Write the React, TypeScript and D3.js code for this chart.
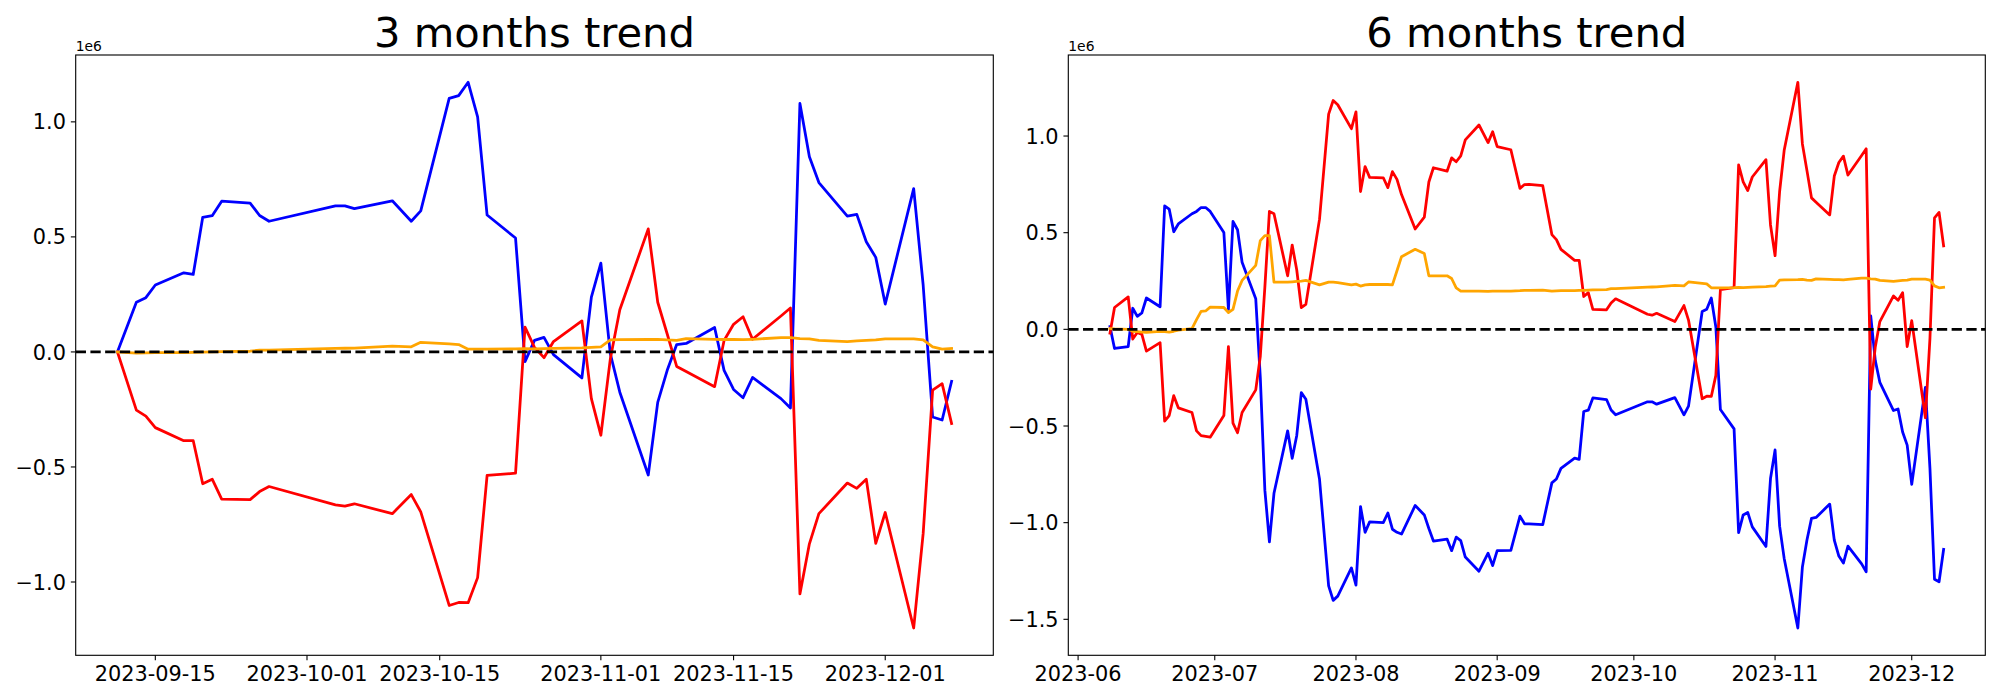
import React from "react";
import * as d3 from "d3";

const W = 2000;
const H = 700;

const FONT = "DejaVu Sans, sans-serif";
const PT = 100 / 72; // matplotlib points -> px at 100 dpi

// 3 months window (values in 1e6)
const M3_DATES = [
  "2023-09-11", "2023-09-13", "2023-09-14", "2023-09-15", "2023-09-18", "2023-09-19",
  "2023-09-20", "2023-09-21", "2023-09-22", "2023-09-25", "2023-09-26", "2023-09-27",
  "2023-10-04", "2023-10-05", "2023-10-06", "2023-10-10", "2023-10-12", "2023-10-13",
  "2023-10-16", "2023-10-17", "2023-10-18", "2023-10-19", "2023-10-20", "2023-10-23",
  "2023-10-24", "2023-10-25", "2023-10-26", "2023-10-27", "2023-10-30", "2023-10-31",
  "2023-11-01", "2023-11-02", "2023-11-03", "2023-11-06", "2023-11-07", "2023-11-08",
  "2023-11-09", "2023-11-10", "2023-11-13", "2023-11-14", "2023-11-15", "2023-11-16",
  "2023-11-17", "2023-11-20", "2023-11-21", "2023-11-22", "2023-11-23", "2023-11-24",
  "2023-11-27", "2023-11-28", "2023-11-29", "2023-11-30", "2023-12-01", "2023-12-04",
  "2023-12-05", "2023-12-06", "2023-12-07", "2023-12-08",
];
const M3_BLUE = [
  0, 0.216, 0.236, 0.291, 0.344, 0.337, 0.585, 0.592, 0.655, 0.647, 0.593, 0.568,
  0.635, 0.635, 0.623, 0.657, 0.568, 0.613, 1.102, 1.114, 1.172, 1.022, 0.595, 0.495,
  -0.042, 0.05, 0.063, -0.012, -0.113, 0.238,
  0.386, -0.008, -0.175, -0.535, -0.219, -0.08, 0.032, 0.037, 0.106, -0.08, -0.163, -0.199,
  -0.111, -0.203, -0.244, 1.08, 0.848, 0.736, 0.59, 0.598, 0.479, 0.411,
  0.208, 0.71, 0.291, -0.283, -0.296, -0.128,
];
const M3_RED = [
  0, -0.253, -0.279, -0.329, -0.386, -0.386, -0.573, -0.553, -0.64, -0.642, -0.607, -0.585,
  -0.665, -0.67, -0.66, -0.703, -0.62, -0.695, -1.102, -1.089, -1.09, -0.981, -0.537, -0.527,
  0.108, 0.02, -0.025, 0.045, 0.135, -0.203,
  -0.362, -0.03, 0.183, 0.535, 0.216, 0.078, -0.063, -0.085, -0.151, 0.05, 0.12, 0.153,
  0.055, 0.156, 0.191, -1.052, -0.834, -0.703, -0.57, -0.593, -0.553, -0.832,
  -0.698, -1.2, -0.79, -0.166, -0.138, -0.311,
];
const M3_ORANGE = [
  0, -0.005, -0.004, -0.003, -0.003, -0.002, -0.001, 0, 0.001, 0.003, 0.008, 0.008,
  0.015, 0.016, 0.017, 0.025, 0.022, 0.042, 0.035, 0.032, 0.012, 0.012, 0.012, 0.013,
  0.014, 0.013, 0.014, 0.015, 0.018, 0.02,
  0.022, 0.052, 0.053, 0.054, 0.055, 0.052, 0.05, 0.058, 0.055, 0.054, 0.054, 0.053,
  0.055, 0.062, 0.062, 0.058, 0.057, 0.05, 0.045, 0.048, 0.05, 0.052,
  0.057, 0.057, 0.052, 0.022, 0.012, 0.015,
];
const M3_XTICKS = ["2023-09-15", "2023-10-01", "2023-10-15", "2023-11-01", "2023-11-15", "2023-12-01"];
const M3_YTICKS = [-1, -0.5, 0, 0.5, 1];

// 6 months window (values in 1e6)
const M6_DATES = [
  "2023-06-08", "2023-06-09", "2023-06-12", "2023-06-13", "2023-06-14", "2023-06-15",
  "2023-06-16", "2023-06-19", "2023-06-20", "2023-06-21", "2023-06-22", "2023-06-23",
  "2023-06-26", "2023-06-27", "2023-06-28", "2023-06-29", "2023-06-30",
  "2023-07-03", "2023-07-04", "2023-07-05", "2023-07-06", "2023-07-07", "2023-07-10",
  "2023-07-11", "2023-07-12", "2023-07-13", "2023-07-14", "2023-07-17", "2023-07-18",
  "2023-07-19", "2023-07-20", "2023-07-21", "2023-07-24", "2023-07-26", "2023-07-27",
  "2023-07-28", "2023-07-31",
  "2023-08-01", "2023-08-02", "2023-08-03", "2023-08-04", "2023-08-07", "2023-08-08",
  "2023-08-09", "2023-08-10", "2023-08-11", "2023-08-14", "2023-08-16", "2023-08-17",
  "2023-08-18", "2023-08-21", "2023-08-22", "2023-08-23", "2023-08-24", "2023-08-25",
  "2023-08-28", "2023-08-30", "2023-08-31",
  "2023-09-01", "2023-09-04", "2023-09-06", "2023-09-07", "2023-09-08",
  ...M3_DATES,
];
const M6_BLUE = [
  0.014, -0.099, -0.089, 0.109, 0.067, 0.085, 0.162, 0.117, 0.638, 0.622, 0.505, 0.545,
  0.598, 0.61, 0.63, 0.63, 0.61,
  0.501, 0.103, 0.558, 0.515, 0.347, 0.158, -0.25, -0.832, -1.099, -0.848, -0.525, -0.667,
  -0.549, -0.327, -0.362, -0.776, -1.327, -1.402, -1.38, -1.234,
  -1.323, -0.917, -1.05, -0.996, -1.0, -0.95, -1.034, -1.05, -1.059, -0.911, -0.96, -1.03,
  -1.095, -1.085, -1.145, -1.075, -1.093, -1.178, -1.251, -1.158, -1.222,
  -1.145, -1.143, -0.966, -1.006, -1.006,
  -1.01, -0.794, -0.774, -0.719, -0.666, -0.673, -0.425, -0.418, -0.355, -0.363, -0.417, -0.442,
  -0.375, -0.375, -0.387, -0.353, -0.442, -0.397, 0.092, 0.104, 0.162, 0.012, -0.415, -0.515,
  -1.052, -0.96, -0.947, -1.022, -1.123, -0.772,
  -0.624, -1.018, -1.185, -1.545, -1.229, -1.09, -0.978, -0.973, -0.904, -1.09, -1.173, -1.209,
  -1.121, -1.213, -1.254, 0.07, -0.162, -0.274, -0.42, -0.412, -0.531, -0.599,
  -0.802, -0.3, -0.719, -1.293, -1.306, -1.138,
];
const M6_RED = [
  -0.02, 0.113, 0.168, -0.05, -0.016, -0.026, -0.113, -0.069, -0.475, -0.446, -0.343, -0.406,
  -0.43, -0.525, -0.55, -0.554, -0.558,
  -0.446, -0.089, -0.485, -0.535, -0.43, -0.313, -0.139, 0.218, 0.61, 0.598, 0.277, 0.436,
  0.307, 0.113, 0.129, 0.57, 1.113, 1.184, 1.162, 1.038,
  1.125, 0.713, 0.842, 0.786, 0.784, 0.733, 0.816, 0.776, 0.697, 0.519, 0.58, 0.762,
  0.836, 0.818, 0.887, 0.867, 0.897, 0.98, 1.057, 0.966, 1.022,
  0.945, 0.929, 0.729, 0.749, 0.75,
  0.743, 0.49, 0.464, 0.414, 0.357, 0.357, 0.17, 0.19, 0.103, 0.101, 0.136, 0.158,
  0.078, 0.073, 0.083, 0.04, 0.123, 0.048, -0.359, -0.346, -0.347, -0.238, 0.206, 0.216,
  0.851, 0.763, 0.718, 0.788, 0.878, 0.54,
  0.381, 0.713, 0.926, 1.278, 0.959, 0.821, 0.68, 0.658, 0.592, 0.793, 0.863, 0.896,
  0.798, 0.899, 0.934, -0.309, -0.091, 0.04, 0.173, 0.15, 0.19, -0.089,
  0.045, -0.457, -0.047, 0.577, 0.605, 0.432,
];
const M6_ORANGE = [
  0.004, 0.002, 0, -0.01, -0.012, -0.014, -0.016, -0.01, -0.012, -0.014, -0.01, -0.004,
  0.004, 0.05, 0.093, 0.095, 0.115,
  0.113, 0.087, 0.103, 0.198, 0.253, 0.331, 0.459, 0.485, 0.485, 0.244, 0.244, 0.246,
  0.248, 0.25, 0.253, 0.23, 0.244, 0.244, 0.242, 0.23,
  0.234, 0.224, 0.23, 0.232, 0.232, 0.232, 0.23, 0.303, 0.376, 0.414, 0.392, 0.277,
  0.277, 0.277, 0.263, 0.214, 0.198, 0.198, 0.198, 0.196, 0.198,
  0.198, 0.198, 0.2, 0.202, 0.202,
  0.203, 0.198, 0.199, 0.2, 0.2, 0.201, 0.202, 0.203, 0.204, 0.206, 0.211, 0.211,
  0.218, 0.219, 0.22, 0.228, 0.225, 0.245, 0.238, 0.235, 0.215, 0.215, 0.215, 0.216,
  0.217, 0.216, 0.217, 0.218, 0.221, 0.223,
  0.225, 0.255, 0.256, 0.257, 0.258, 0.255, 0.253, 0.261, 0.258, 0.257, 0.257, 0.256,
  0.258, 0.265, 0.265, 0.261, 0.26, 0.253, 0.248, 0.251, 0.253, 0.255,
  0.26, 0.26, 0.255, 0.225, 0.215, 0.218,
];
const M6_XTICKS = ["2023-06-01", "2023-07-01", "2023-08-01", "2023-09-01", "2023-10-01", "2023-11-01", "2023-12-01"];
const M6_YTICKS = [-1.5, -1, -0.5, 0, 0.5, 1];

const parse = d3.timeParse("%Y-%m-%d");

interface PanelProps {
  title: string;
  dates: string[];
  series: { values: number[]; color: string }[];
  xTicks: string[];
  xFmt: string;
  yTicks: number[];
  left: number;
  right: number;
  top: number;
  bottom: number;
}

function Panel({ title, dates, series, xTicks, xFmt, yTicks, left, right, top, bottom }: PanelProps) {
  const xs = dates.map(d => parse(d) as Date);
  const [d0, d1] = d3.extent(xs) as [Date, Date];
  const xPad = (+d1 - +d0) * 0.05;
  const x = d3.scaleTime()
    .domain([new Date(+d0 - xPad), new Date(+d1 + xPad)])
    .range([left, right]);

  const all = series.flatMap(s => s.values);
  const [lo, hi] = d3.extent(all) as [number, number];
  const yPad = (hi - lo) * 0.05;
  const y = d3.scaleLinear().domain([lo - yPad, hi + yPad]).range([bottom, top]);

  const line = d3.line<number>()
    .x((_, i) => x(xs[i]))
    .y(v => y(v));

  const fmtX = d3.timeFormat(xFmt);
  const fmtY = (v: number) => d3.format(".1f")(v).replace("-", "\u2212");

  const tickLen = 3.5 * PT;
  const tickPad = 3.5 * PT;
  const tickFs = 15 * PT;

  return (
    <g>
      <text x={(left + right) / 2} y={top - 6 * PT} textAnchor="middle" fontSize={30 * PT} fill="#000">
        {title}
      </text>
      <text x={left} y={top - 4} fontSize={10 * PT} fill="#000">1e6</text>

      {series.map((s, i) => (
        <path key={i} d={line(s.values) ?? ""} fill="none" stroke={s.color}
          strokeWidth={2 * PT} strokeLinejoin="round" strokeLinecap="square" />
      ))}

      <line x1={left} x2={right} y1={y(0)} y2={y(0)} stroke="#000" strokeWidth={2 * PT}
        strokeDasharray={`${7.4 * PT} ${3.2 * PT}`} />

      <rect x={left} y={top} width={right - left} height={bottom - top}
        fill="none" stroke="#000" strokeWidth={0.8 * PT} />

      {yTicks.map(v => (
        <g key={v}>
          <line x1={left - tickLen} x2={left} y1={y(v)} y2={y(v)} stroke="#000" strokeWidth={0.8 * PT} />
          <text x={left - tickLen - tickPad} y={y(v) + 7.6} textAnchor="end" fontSize={tickFs} fill="#000">
            {fmtY(v)}
          </text>
        </g>
      ))}

      {xTicks.map(t => {
        const tx = x(parse(t) as Date);
        return (
          <g key={t}>
            <line x1={tx} x2={tx} y1={bottom} y2={bottom + tickLen} stroke="#000" strokeWidth={0.8 * PT} />
            <text x={tx} y={bottom + tickLen + tickPad + 15.8} textAnchor="middle" fontSize={tickFs} fill="#000">
              {fmtX(parse(t) as Date)}
            </text>
          </g>
        );
      })}
    </g>
  );
}

export default function App() {
  return (
    <svg width={W} height={H} viewBox={`0 0 ${W} ${H}`} fontFamily={FONT}
      style={{ position: "absolute", left: 0, top: 0, background: "#fff", display: "block" }}>
      <rect x={0} y={0} width={W} height={H} fill="#fff" />
      <Panel
        title="3 months trend"
        dates={M3_DATES}
        series={[
          { values: M3_BLUE, color: "blue" },
          { values: M3_RED, color: "red" },
          { values: M3_ORANGE, color: "orange" },
        ]}
        xTicks={M3_XTICKS}
        xFmt="%Y-%m-%d"
        yTicks={M3_YTICKS}
        left={75.7} right={993.3} top={55} bottom={655.3}
      />
      <Panel
        title="6 months trend"
        dates={M6_DATES}
        series={[
          { values: M6_BLUE, color: "blue" },
          { values: M6_RED, color: "red" },
          { values: M6_ORANGE, color: "orange" },
        ]}
        xTicks={M6_XTICKS}
        xFmt="%Y-%m"
        yTicks={M6_YTICKS}
        left={1068.3} right={1985.3} top={55} bottom={655.3}
      />
    </svg>
  );
}
